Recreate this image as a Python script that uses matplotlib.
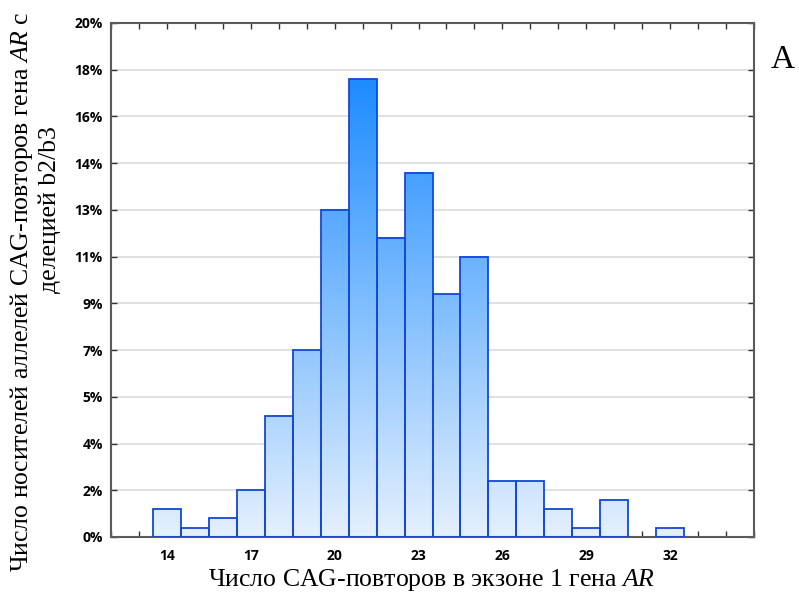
import numpy as np
import matplotlib
matplotlib.use("Agg")
import matplotlib.pyplot as plt
from matplotlib.colors import LinearSegmentedColormap
from matplotlib.ticker import FixedLocator, MultipleLocator

# данные: число CAG-повторов и число носителей
cag = [14, 15, 16, 17, 18, 19, 20, 21, 22, 23, 24, 25, 26, 27, 28, 29, 30, 31, 32]
counts = [3, 1, 2, 5, 13, 20, 35, 49, 32, 39, 26, 30, 6, 6, 3, 1, 4, 0, 1]
n_total = 276
x_labels = [14, 17, 20, 23, 26, 29, 32]

pct = np.array(counts) / n_total * 100

plt.rcParams['mathtext.fontset'] = 'custom'
plt.rcParams['mathtext.rm'] = 'Liberation Serif'
plt.rcParams['mathtext.it'] = 'Liberation Serif:italic'

fig = plt.figure(figsize=(7.99, 6.01), dpi=100)
ax = fig.add_axes([111 / 799, 64 / 601, 643 / 799, 514 / 601])

cmap = LinearSegmentedColormap.from_list('bl', ['#E4F0FD', '#1E8CFF'])
grad = np.linspace(0, 1, 128).reshape(-1, 1)
for x, h in zip(cag, pct):
    if h == 0:
        continue
    ax.imshow(grad * h, extent=[x - 0.5, x + 0.5, 0, h], origin='lower',
              cmap=cmap, vmin=0, vmax=pct.max(), aspect='auto',
              interpolation='bilinear', zorder=2)
    ax.bar(x, h, width=1, facecolor='none', edgecolor='#1448D6',
           linewidth=1.3, zorder=3)

ymax = 55 / n_total * 100
yticks = [k * 5 / n_total * 100 for k in range(12)]
ax.set_xlim(12, 35)
ax.set_ylim(0, ymax)
ax.set_aspect('auto')
ax.yaxis.set_major_locator(FixedLocator(yticks))
ax.set_yticklabels(['%d%%' % round(t) for t in yticks])
ax.xaxis.set_major_locator(FixedLocator(x_labels))
ax.xaxis.set_minor_locator(MultipleLocator(1))
ax.set_xticklabels([str(v) for v in x_labels])

ax.grid(axis='y', color='#DCDCDC', linewidth=1.2, zorder=0)
ax.set_axisbelow(True)

for s in ax.spines.values():
    s.set_color('#5A5A5A')
    s.set_linewidth(1.5)

ax.tick_params(which='both', direction='in', top=True, right=True,
               length=4, width=1, color='#333333')
ax.tick_params(axis='x', which='major', pad=9)
ax.tick_params(axis='y', pad=6)
for lab in ax.get_xticklabels() + ax.get_yticklabels():
    lab.set_fontfamily('Open Sans')
    lab.set_fontweight('bold')
    lab.set_fontsize(10)

fig.text(432 / 799, 1 - 580 / 601, r'Число CAG-повторов в экзоне 1 гена $\mathit{AR}$',
         ha='center', va='center', fontsize=18.5, family='Liberation Serif')
fig.text(22 / 799, 1 - 292 / 601,
         r'Число носителей аллелей CAG-повторов гена $\mathit{AR}$ с',
         ha='center', va='center', rotation=90, fontsize=18.5, family='Liberation Serif')
fig.text(50 / 799, 1 - 210 / 601, 'делецией b2/b3',
         ha='center', va='center', rotation=90, fontsize=18.5, family='Liberation Serif')
fig.text(783 / 799, 1 - 60 / 601, 'A', ha='center', va='center',
         fontsize=24, family='Liberation Serif')

fig.savefig('out.png', dpi=100)
